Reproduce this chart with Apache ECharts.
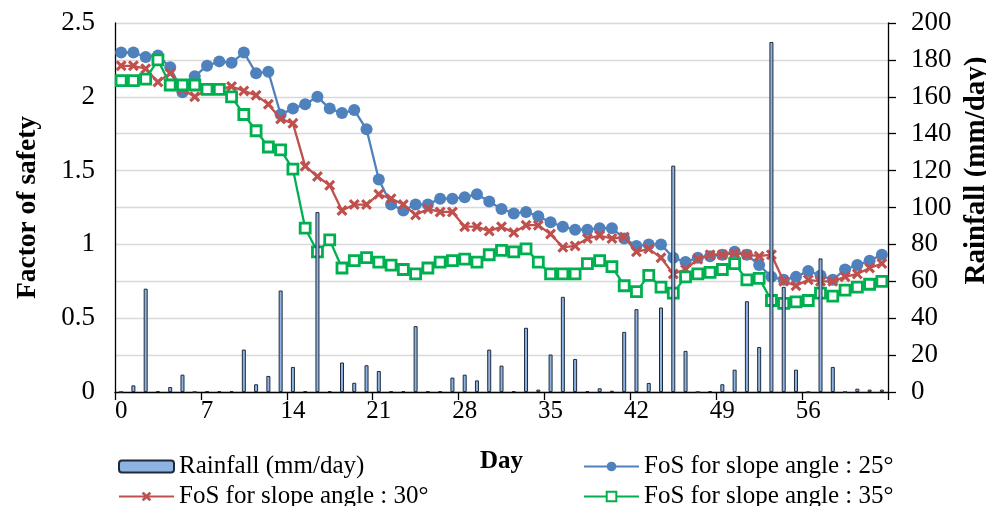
<!DOCTYPE html>
<html>
<head>
<meta charset="utf-8">
<script src="https://cdn.jsdelivr.net/npm/echarts@6/dist/echarts.min.js"></script>
<style>
html,body{margin:0;padding:0;background:#fff;}
#chart{width:986px;height:506px;}
</style>
</head>
<body>
<div id="chart"></div>
<script>
var days = [];
for (var i = 0; i <= 62; i++) days.push(String(i));

var rainfall = [0, 3.6, 56, 0.5, 2.7, 9.4, 0, 0.5, 0.5, 0.5, 23, 4.2, 8.7, 55, 13.6, 0.5,
  97.5, 0.5, 16, 5, 14.5, 11.4, 0.5, 0.5, 35.7, 0.5, 0.5, 7.8, 9.4, 6.3, 23, 14.3,
  0.5, 34.8, 1.3, 20.3, 51.6, 17.9, 0.5, 2, 0.7, 32.6, 44.9, 4.9, 45.8, 122.7, 22.3,
  0, 0.5, 4.2, 12.1, 49.2, 24.4, 189.7, 57, 12.1, 0, 72.4, 13.6, 0, 1.8, 1.3, 1.3];

var fos25 = [2.30, 2.30, 2.27, 2.28, 2.20, 2.03, 2.14, 2.21, 2.24, 2.23, 2.30, 2.16, 2.17, 1.88, 1.92, 1.95,
  2.00, 1.92, 1.89, 1.91, 1.78, 1.44, 1.27, 1.23, 1.27, 1.27, 1.31, 1.31, 1.32, 1.34, 1.29, 1.24,
  1.21, 1.22, 1.19, 1.15, 1.12, 1.10, 1.10, 1.11, 1.11, 1.04, 0.99, 1.00, 1.00, 0.91, 0.88,
  0.91, 0.92, 0.93, 0.95, 0.93, 0.86, 0.78, 0.76, 0.78, 0.82, 0.79, 0.76, 0.83, 0.86, 0.89, 0.93];

var fos30 = [2.21, 2.21, 2.19, 2.10, 2.16, 2.05, 2.00, 2.05, 2.05, 2.07, 2.04, 2.01, 1.95, 1.85, 1.82, 1.53,
  1.46, 1.40, 1.23, 1.27, 1.27, 1.34, 1.31, 1.27, 1.20, 1.24, 1.22, 1.22, 1.12, 1.12, 1.09, 1.12,
  1.08, 1.13, 1.13, 1.07, 0.98, 0.99, 1.04, 1.06, 1.04, 1.05, 0.95, 0.97, 0.91, 0.80, 0.83,
  0.90, 0.93, 0.93, 0.94, 0.93, 0.92, 0.93, 0.75, 0.72, 0.76, 0.75, 0.75, 0.78, 0.80, 0.84, 0.87];

var fos35 = [2.11, 2.11, 2.12, 2.25, 2.08, 2.08, 2.08, 2.05, 2.05, 2.00, 1.88, 1.77, 1.66, 1.64, 1.51, 1.11,
  0.95, 1.03, 0.84, 0.89, 0.91, 0.88, 0.86, 0.83, 0.80, 0.84, 0.88, 0.89, 0.90, 0.88, 0.93, 0.96,
  0.95, 0.97, 0.88, 0.80, 0.80, 0.80, 0.87, 0.89, 0.85, 0.72, 0.68, 0.79, 0.71, 0.67, 0.78,
  0.80, 0.81, 0.83, 0.87, 0.76, 0.77, 0.62, 0.60, 0.61, 0.62, 0.67, 0.65, 0.69, 0.71, 0.73, 0.75];

var leftTicks = {min: 0, max: 2.5, interval: 0.5};
var rightTicks = {min: 0, max: 200, interval: 20};

var FONT = '"Liberation Serif", "Times New Roman", serif';
var chart = echarts.init(document.getElementById('chart'), null, {renderer: 'canvas'});

var legendBase = {
  itemWidth: 55, itemHeight: 12, itemGap: 5, padding: 0,
  textStyle: {fontFamily: FONT, fontSize: 25, color: '#000'},
  selectedMode: false
};

var xMark = 'path://M0,2 L2,0 L5,3 L8,0 L10,2 L7,5 L10,8 L8,10 L5,7 L2,10 L0,8 L3,5 Z';

chart.setOption({
  animation: false,
  backgroundColor: '#fff',
  grid: {left: 115, right: 98, top: 23, bottom: 114, containLabel: false, outerBoundsMode: 'none'},
  legend: [
    Object.assign({left: 118, top: 454, data: ['Rainfall (mm/day)']}, legendBase),
    Object.assign({left: 583, top: 454, data: ['FoS for slope angle : 25°']}, legendBase),
    Object.assign({left: 118, top: 484, data: ['FoS for slope angle : 30°']}, legendBase),
    Object.assign({left: 583, top: 484, data: ['FoS for slope angle : 35°']}, legendBase)
  ],
  xAxis: {
    type: 'category',
    data: days,
    boundaryGap: true,
    name: 'Day',
    nameLocation: 'middle',
    nameGap: 57,
    nameTextStyle: {fontFamily: FONT, fontSize: 25, fontWeight: 'bold', color: '#000'},
    axisLine: {show: true, lineStyle: {color: '#000', width: 1.3}},
    axisTick: {show: true, interval: 6, length: 8, inside: false, lineStyle: {color: '#000', width: 1.3}},
    axisLabel: {interval: 6, margin: 7, fontFamily: FONT, fontSize: 25, color: '#000'},
    splitLine: {show: false}
  },
  yAxis: [
    {
      type: 'value',
      min: leftTicks.min, max: leftTicks.max, interval: leftTicks.interval,
      position: 'left',
      name: 'Factor of safety',
      nameLocation: 'middle',
      nameRotate: 90,
      nameGap: 73,
      nameTextStyle: {fontFamily: FONT, fontSize: 27.5, fontWeight: 'bold', color: '#000'},
      axisLine: {show: true, lineStyle: {color: '#000', width: 1.3}},
      axisTick: {show: false},
      axisLabel: {margin: 20, fontFamily: FONT, fontSize: 27, color: '#000'},
      splitLine: {show: false}
    },
    {
      type: 'value',
      min: rightTicks.min, max: rightTicks.max, interval: rightTicks.interval,
      position: 'right',
      name: 'Rainfall (mm/day)',
      nameLocation: 'middle',
      nameRotate: 90,
      nameGap: 72,
      nameTextStyle: {fontFamily: FONT, fontSize: 29, fontWeight: 'bold', color: '#000', padding: [0, 0, 0, 74]},
      axisLine: {show: true, lineStyle: {color: '#000', width: 1.3}},
      axisTick: {show: true, length: 8, inside: false, lineStyle: {color: '#000', width: 1.3}},
      axisLabel: {margin: 23, fontFamily: FONT, fontSize: 27, color: '#000'},
      splitLine: {show: true, lineStyle: {color: '#d9d9d9', width: 1.3}}
    }
  ],
  series: [
    {
      name: 'FoS for slope angle : 25°',
      type: 'line',
      yAxisIndex: 0,
      data: fos25,
      symbol: 'circle',
      symbolSize: 12,
      showAllSymbol: true,
      lineStyle: {color: '#4F81BD', width: 2.3},
      itemStyle: {color: '#4F81BD'},
      z: 2
    },
    {
      name: 'FoS for slope angle : 30°',
      type: 'line',
      yAxisIndex: 0,
      data: fos30,
      symbol: xMark,
      symbolSize: 11,
      showAllSymbol: true,
      lineStyle: {color: '#C0504D', width: 2.3},
      itemStyle: {color: '#C0504D'},
      z: 3
    },
    {
      name: 'FoS for slope angle : 35°',
      type: 'line',
      yAxisIndex: 0,
      data: fos35,
      symbol: 'rect',
      symbolSize: 10,
      showAllSymbol: true,
      lineStyle: {color: '#00B050', width: 2.3},
      itemStyle: {color: '#ffffff', borderColor: '#00B050', borderWidth: 2.8},
      z: 4
    },
    {
      name: 'Rainfall (mm/day)',
      type: 'bar',
      yAxisIndex: 1,
      data: rainfall,
      barWidth: 4,
      itemStyle: {color: '#8DB3E2', borderColor: '#1f2a38', borderWidth: 1},
      z: 5
    }
  ]
});
</script>
</body>
</html>
